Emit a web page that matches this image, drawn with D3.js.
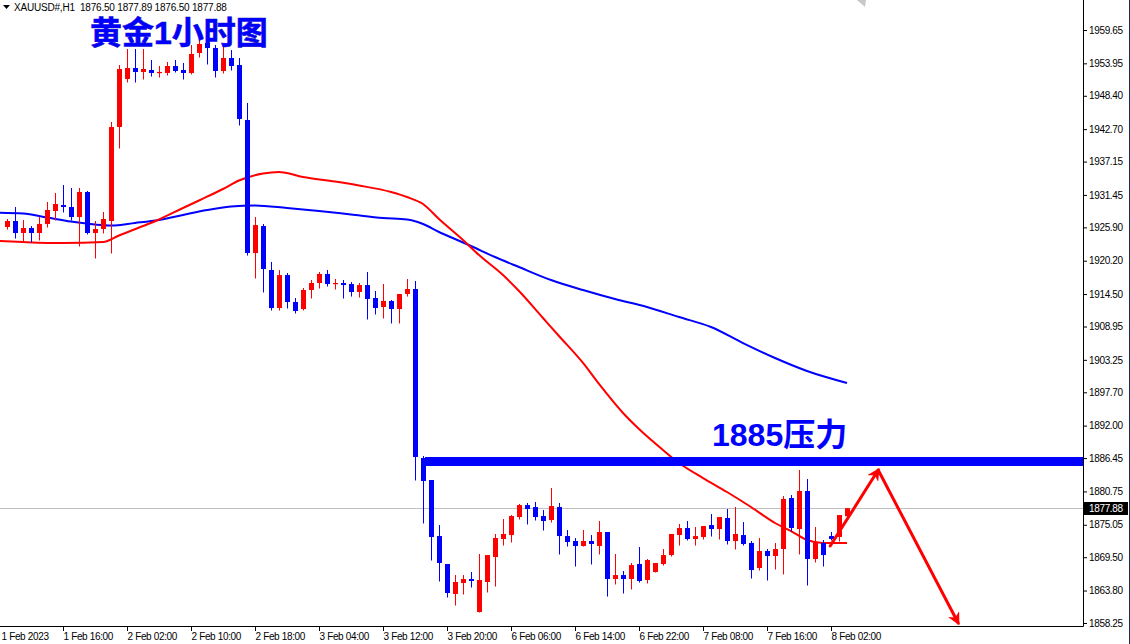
<!DOCTYPE html>
<html><head><meta charset="utf-8">
<script src="https://cdn.jsdelivr.net/npm/d3@7"></script>
<style>
html,body{margin:0;padding:0;background:#fff;}
svg{display:block;}
.ax text{font-family:"Liberation Sans",Arial,sans-serif;font-size:10px;fill:#000;letter-spacing:-0.35px;}
</style></head>
<body>
<svg id="c" width="1130" height="644"></svg>
<script>
// ---- data (XAUUSD H1) ----
const open = [1925.96,1926.99,1924.94,1925.79,1924.94,1926.48,1928.70,1929.72,1929.38,1927.67,
1931.95,1924.94,1925.62,1926.99,1943.06,1951.27,1953.15,1952.47,1952.81,1952.30,
1952.30,1953.49,1952.81,1952.30,1955.72,1957.43,1956.57,1952.64,1954.86,1953.66,
1944.26,1921.52,1926.13,1918.61,1912.11,1917.75,1913.14,1911.94,1915.19,1916.39,
1917.93,1916.22,1916.39,1916.22,1914.85,1916.04,1913.82,1912.28,1913.31,1911.94,
1914.51,1915.36,1886.46,1882.70,1873.12,1868.34,1863.21,1865.09,1865.77,1860.13,
1865.26,1869.53,1872.61,1873.29,1876.37,1878.42,1878.08,1876.54,1875.86,1878.08,
1873.12,1872.27,1871.41,1872.27,1871.41,1873.81,1865.77,1866.45,1865.77,1868.34,
1865.60,1866.97,1868.34,1869.87,1873.29,1874.49,1872.61,1872.95,1875.00,1874.32,
1876.20,1872.27,1873.29,1871.93,1867.65,1870.56,1869.70,1870.90,1879.62,1874.32,
1880.82,1869.19,1871.93,1873.12,1872.95,1876.50];
const high = [1927.33,1929.38,1927.16,1926.13,1927.67,1930.24,1931.78,1933.14,1932.63,1932.63,
1932.12,1926.99,1928.53,1943.92,1953.66,1956.40,1956.40,1956.40,1954.52,1953.49,
1954.18,1954.52,1954.01,1957.08,1959.14,1959.14,1957.08,1956.74,1956.23,1954.86,
1947.17,1927.67,1926.48,1919.98,1918.61,1918.10,1913.82,1915.53,1916.90,1918.27,
1918.61,1917.07,1916.90,1916.56,1916.39,1918.27,1915.02,1916.22,1913.48,1914.51,
1917.07,1916.73,1886.80,1882.70,1875.00,1868.34,1866.45,1866.45,1866.97,1870.05,
1869.87,1873.47,1876.03,1876.71,1878.60,1878.77,1878.94,1877.57,1881.33,1878.77,
1874.15,1872.78,1874.15,1873.29,1875.69,1873.81,1870.05,1867.14,1868.51,1871.24,
1869.19,1868.51,1870.90,1873.47,1875.18,1875.69,1874.66,1874.83,1876.89,1876.37,
1877.74,1878.08,1875.52,1872.27,1872.78,1870.90,1871.93,1879.96,1880.13,1884.41,
1882.87,1874.66,1872.44,1873.81,1876.71,1877.89];
const low = [1925.62,1924.08,1923.40,1923.40,1923.74,1925.96,1927.16,1928.53,1927.16,1922.71,
1924.77,1920.66,1924.94,1921.52,1939.47,1950.76,1950.76,1951.27,1951.78,1951.61,
1951.95,1952.47,1951.27,1952.13,1955.03,1953.84,1951.61,1952.30,1952.81,1943.40,
1921.17,1917.24,1914.85,1911.77,1911.77,1912.11,1911.26,1911.77,1913.82,1915.53,
1915.87,1915.36,1913.82,1914.16,1913.99,1910.23,1911.09,1910.40,1909.55,1909.55,
1914.16,1882.70,1875.35,1869.02,1865.43,1862.69,1861.32,1863.21,1864.40,1860.13,
1863.55,1864.57,1871.58,1872.10,1876.03,1875.18,1875.86,1874.15,1875.52,1870.05,
1871.41,1867.99,1871.41,1868.34,1870.05,1862.86,1864.92,1863.38,1864.06,1865.26,
1865.09,1866.97,1868.16,1869.70,1871.58,1872.44,1871.58,1872.61,1873.12,1872.61,
1871.76,1870.90,1871.58,1865.94,1867.31,1865.60,1867.48,1866.63,1873.98,1870.05,
1864.74,1868.68,1867.99,1872.44,1872.27,1876.50];
const close = [1926.99,1924.94,1925.79,1924.94,1926.48,1928.87,1929.90,1929.38,1927.67,1931.95,
1924.94,1925.62,1927.33,1943.06,1952.98,1953.15,1952.47,1952.98,1952.30,1952.47,
1953.49,1952.64,1952.30,1955.55,1957.26,1956.57,1952.64,1954.86,1953.49,1944.43,
1921.52,1926.30,1918.78,1912.11,1917.75,1913.14,1911.60,1915.19,1916.39,1917.93,
1916.22,1916.39,1916.04,1914.85,1916.04,1913.65,1912.11,1913.31,1911.94,1914.51,
1915.36,1886.63,1882.53,1872.95,1868.51,1863.38,1865.26,1865.77,1865.43,1865.60,
1869.87,1872.78,1873.47,1876.54,1878.42,1877.74,1876.37,1875.69,1878.25,1873.12,
1872.10,1871.41,1872.27,1871.76,1873.81,1865.77,1866.45,1865.77,1868.16,1865.43,
1869.02,1868.51,1869.87,1873.47,1874.49,1872.61,1873.12,1874.83,1874.32,1876.37,
1872.27,1873.47,1871.76,1867.31,1870.56,1869.70,1870.90,1879.45,1874.49,1880.82,
1869.19,1871.93,1869.87,1872.61,1876.71,1877.88];

// moving averages: [bar index], [price]
const maRedIdx = [-1,2,7,12,14,17,19,22,24,27,29,32,34,37,41,44,48,50,52,54,57,59,62,64,67,69,72,74,77,79,82,84,87,90,93,96,98,100,102,105];
const maRedVal = [1923.57,1923.40,1923.23,1923.40,1924.51,1926.13,1927.25,1929.21,1930.50,1932.46,1933.91,1935.11,1935.37,1934.51,1933.74,1933.06,1931.95,1931.09,1929.90,1927.33,1923.74,1921.17,1917.75,1915.02,1910.40,1907.32,1902.71,1899.12,1894.16,1891.42,1887.83,1885.61,1883.04,1880.65,1878.08,1875.35,1873.98,1872.44,1871.93,1871.93];
const maBlueIdx = [-1,2,5,8,11,13,16,19,22,25,28,31,35,39,43,47,50,52,54,56,58,61,64,68,72,76,80,84,88,92,96,100,105];
const maBlueVal = [1928.41,1928.27,1927.59,1926.90,1926.39,1926.22,1926.65,1927.16,1928.02,1928.87,1929.47,1929.64,1929.21,1928.70,1928.10,1927.50,1927.25,1926.48,1925.11,1923.91,1922.71,1920.83,1919.12,1916.90,1915.19,1913.65,1912.28,1910.57,1908.86,1906.12,1903.56,1901.34,1899.29];

// axis ticks
const priceTicks = [1959.65,1953.95,1948.40,1942.70,1937.15,1931.45,1925.90,1920.20,1914.50,1908.95,1903.25,1897.70,1892.00,1886.45,1880.75,1875.05,1869.50,1863.80,1858.25];
const dateIdx = [-1,7,15,23,31,39,47,55,63,71,79,87,95,103];
const dateLabels = ["1 Feb 2023","1 Feb 16:00","2 Feb 02:00","2 Feb 10:00","2 Feb 18:00","3 Feb 04:00","3 Feb 12:00","3 Feb 20:00","6 Feb 06:00","6 Feb 14:00","6 Feb 22:00","7 Feb 08:00","7 Feb 16:00","8 Feb 02:00"];

// annotations
const resistanceLevel = 1885.86;
const resistanceStartIdx = 52.25;
const arrowIdx = [102.9, 108.9, 118.9];
const arrowVal = [1871.41, 1884.41, 1858.25];
const lastPrice = 1877.88;
const headerText = "XAUUSD#,H1  1876.50 1877.89 1876.50 1877.88";
const titleText = "黄金1小时图";
const resistanceText = "1885压力";

// ---- drawing ----
const W = 1083, H = 626;
const svg = d3.select("#c");
const x = d3.scaleLinear().domain([0, 105]).range([7, 847]);
const y = d3.scaleLinear().domain([1858.25, 1959.65]).range([623, 30]);

svg.append("defs").append("clipPath").attr("id","clip")
  .append("rect").attr("x",0).attr("y",0).attr("width",W).attr("height",H);
const defs = svg.select("defs");
defs.append("marker").attr("id","ah").attr("viewBox","0 0 10 10").attr("refX",8).attr("refY",5)
  .attr("markerWidth",4.2).attr("markerHeight",4.2).attr("orient","auto").attr("markerUnits","strokeWidth")
  .append("path").attr("d","M0,0 L10,5 L0,10 L3,5 Z").attr("fill","#ff0000");

const g = svg.append("g").attr("clip-path","url(#clip)");

// current price line
g.append("line").attr("x1",0).attr("x2",W)
  .attr("y1",Math.round(y(lastPrice))+0.5).attr("y2",Math.round(y(lastPrice))+0.5)
  .attr("stroke","#c0c0c0").attr("stroke-width",1);

// MAs
const line = d3.line().x(d=>x(d[0])).y(d=>y(d[1])).curve(d3.curveMonotoneX);
g.append("path").datum(maBlueIdx.map((d,i)=>[d,maBlueVal[i]]))
  .attr("d",line).attr("fill","none").attr("stroke","#0000ff").attr("stroke-width",2);
g.append("path").datum(maRedIdx.map((d,i)=>[d,maRedVal[i]]))
  .attr("d",line).attr("fill","none").attr("stroke","#ff0000").attr("stroke-width",2);

// candles
const bars = d3.range(open.length).map(i=>({i,o:open[i],h:high[i],l:low[i],c:close[i]}));
const cg = g.append("g");
cg.selectAll("line.w").data(bars).enter().append("line").attr("class","w")
  .attr("x1",d=>Math.round(x(d.i))+0.5).attr("x2",d=>Math.round(x(d.i))+0.5)
  .attr("y1",d=>y(d.h)).attr("y2",d=>y(d.l)+0.5)
  .attr("stroke",d=>d.c>=d.o?"#ff0000":"#0000ff").attr("stroke-width",1);
cg.selectAll("rect.b").data(bars).enter().append("rect").attr("class","b")
  .attr("x",d=>Math.round(x(d.i))-2).attr("width",5)
  .attr("y",d=>y(Math.max(d.o,d.c)))
  .attr("height",d=>Math.max(1.2,Math.abs(y(d.o)-y(d.c))))
  .attr("fill",d=>d.c>=d.o?"#ff0000":"#0000ff");

// resistance line
const ry = y(resistanceLevel);
g.append("line").attr("x1",x(resistanceStartIdx)).attr("x2",W+1).attr("y1",ry).attr("y2",ry)
  .attr("stroke","#0000ff").attr("stroke-width",9);

// arrows
for (let k=0;k<arrowIdx.length-1;k++){
  g.append("line").attr("x1",x(arrowIdx[k])).attr("y1",y(arrowVal[k]))
    .attr("x2",x(arrowIdx[k+1])).attr("y2",y(arrowVal[k+1]))
    .attr("stroke","#ff0000").attr("stroke-width",3).attr("stroke-linecap","round")
    .attr("marker-end","url(#ah)");
}

// axes
const ya = svg.append("g").attr("class","ax").attr("transform",`translate(${W},0)`)
  .call(d3.axisRight(y).tickValues(priceTicks).tickSize(4).tickPadding(2).tickFormat(d3.format(".2f")));
ya.select(".domain").remove();
ya.selectAll(".tick line").attr("stroke","#000");
const xa = svg.append("g").attr("class","ax").attr("transform",`translate(0,${H})`)
  .call(d3.axisBottom(x).tickValues(dateIdx).tickSize(5).tickPadding(2).tickFormat((d,i)=>dateLabels[i]));
xa.select(".domain").remove();
xa.selectAll(".tick line").attr("stroke","#000");
xa.selectAll(".tick text").attr("text-anchor","start").attr("x",0);
xa.selectAll(".tick").filter(d=>d<0).select("text").attr("x",2);

// frame lines
svg.append("line").attr("x1",0).attr("x2",W+0.5).attr("y1",H+0.5).attr("y2",H+0.5).attr("stroke","#000");
svg.append("line").attr("x1",W+0.5).attr("x2",W+0.5).attr("y1",0).attr("y2",H+0.5).attr("stroke","#000");
svg.append("line").attr("x1",1129.5).attr("x2",1129.5).attr("y1",0).attr("y2",644).attr("stroke","#1c2b4d");

// current price label on axis
const ly = Math.round(y(lastPrice));
svg.append("rect").attr("x",W+1).attr("y",ly-6).attr("width",44).attr("height",13).attr("fill","#000");
svg.append("text").attr("x",W+6).attr("y",ly+4)
  .attr("font-family","Liberation Sans, Arial, sans-serif").attr("font-size",10).attr("letter-spacing","-0.35px")
  .attr("fill","#fff").text(d3.format(".2f")(lastPrice));

// chart-shift marker
svg.append("path").attr("d","M857,0 L866,0 L865,7 Z").attr("fill","#c8c8c8");

// header
svg.append("path").attr("d","M3,5 L10,5 L6.5,9 Z").attr("fill","#000");
svg.append("text").attr("x",14).attr("y",11).attr("xml:space","preserve").style("white-space","pre")
  .attr("font-family","Liberation Sans, Arial, sans-serif").attr("font-size",10).attr("letter-spacing","-0.2px")
  .attr("fill","#000").text(headerText);

// title & label
const tf = "'Liberation Sans', 'Noto Sans CJK SC', sans-serif";
svg.append("text").attr("x",90).attr("y",43.5).attr("font-family",tf).attr("font-weight","bold")
  .attr("font-size",32).attr("fill","#0000ff").attr("stroke","#30109a").attr("stroke-width",0.6)
  .style("paint-order","stroke").text(titleText);
svg.append("text").attr("x",712).attr("y",446).attr("font-family",tf).attr("font-weight","bold")
  .attr("font-size",32).attr("fill","#0000ff").text(resistanceText);
</script>
</body></html>
